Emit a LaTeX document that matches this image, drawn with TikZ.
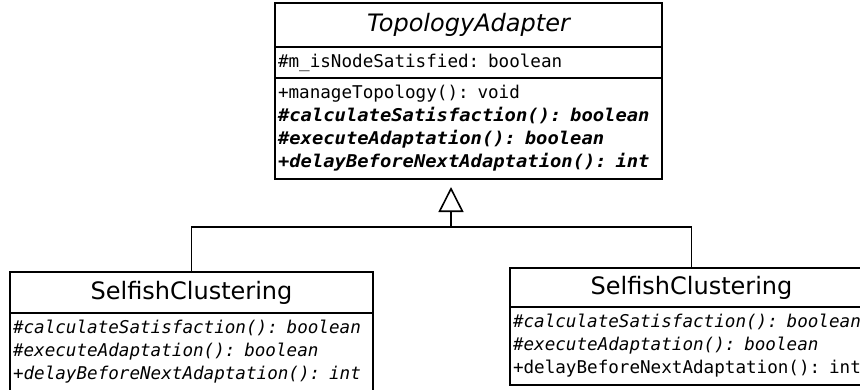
\documentclass[tikz,border=0pt]{standalone}
\usepackage{fontspec}
\setmainfont{DejaVu Sans}
\setmonofont{DejaVu Sans Mono}
\newfontfamily\widemono[FakeStretch=1.07]{DejaVu Sans Mono}
\usetikzlibrary{positioning,arrows.meta}

\tikzset{
  umlbox/.style={draw, line width=1.6pt, inner sep=0pt, outer sep=0pt},
  classname/.style={umlbox, font=\fontsize{24}{28}\selectfont},
  members/.style={umlbox, align=left, inner xsep=3pt, font=\fontsize{17.6}{23}\selectfont\ttfamily},
  generalization/.style={line width=1.6pt, -{Triangle[open, length=25pt, width=25pt]}},
}
\newcommand\abstractop[1]{{\widemono\bfseries\itshape #1}}

\begin{document}
\begin{tikzpicture}[x=1pt, y=-1pt]
\clip (0,0) rectangle (860,389);

% abstract base class
\node[classname, anchor=north west, minimum width=387pt, minimum height=44pt] (adapter) at (275,3) {\itshape TopologyAdapter};
\node[members, below=0pt of adapter, minimum height=31pt, text width=381pt, text height=13pt, text depth=4pt] (adapterattr) {\#m\_isNodeSatisfied: boolean};
\node[members, below=0pt of adapterattr, minimum height=101pt, text width=381pt] (adapterops)
  {+manageTopology(): void\\
   \abstractop{\#calculateSatisfaction(): boolean}\\
   \abstractop{\#executeAdaptation(): boolean}\\
   \abstractop{+delayBeforeNextAdaptation(): int}};

% the two subclasses
\node[classname, anchor=north west, minimum width=363pt, minimum height=41pt] (selfishleft) at (10,272) {SelfishClustering};
\node[members, below=0pt of selfishleft, minimum height=78pt, text width=357pt] (selfishleftops)
  {\textit{\#calculateSatisfaction(): boolean}\\
   \textit{\#executeAdaptation(): boolean}\\
   \textit{+delayBeforeNextAdaptation(): int}};

\node[classname, anchor=north west, minimum width=363pt, minimum height=39pt] (selfishright) at (510,268) {SelfishClustering};
\node[members, below=0pt of selfishright, minimum height=78pt, text width=357pt] (selfishrightops)
  {\textit{\#calculateSatisfaction(): boolean}\\
   \textit{\#executeAdaptation(): boolean}\\
   +delayBeforeNextAdaptation(): int};

% generalization
\coordinate (joint) at (451,227);
\draw[generalization, shorten >=8pt] (joint) -- (joint |- adapterops.south);
\draw[line width=1.6pt] (selfishleft.north) |- (joint) -| (selfishright.north);
\end{tikzpicture}
\end{document}
